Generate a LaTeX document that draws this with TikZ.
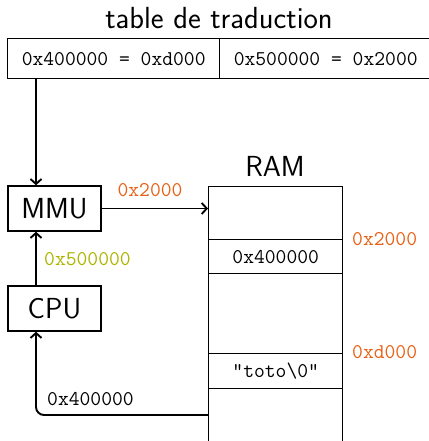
\documentclass[tikz,border=0pt]{standalone}
\usepackage{fontspec}
\usetikzlibrary{arrows.meta}
\definecolor{addrorange}{RGB}{232,96,20}
\definecolor{addrolive}{RGB}{172,180,0}
\begin{document}
\begin{tikzpicture}[x=1pt,y=-1pt,
  big/.style={font=\fontsize{29}{30}\selectfont\sffamily},
  mono/.style={font=\fontsize{21}{24}\selectfont\ttfamily},
  cell/.style={draw, line width=1.4pt, inner sep=0pt},
  arr/.style={-{Straight Barb[length=5pt,width=11pt]}, line width=1.9pt},
  lbl/.style={mono, inner sep=0pt}]
\useasboundingbox (0,0) rectangle (428,441);
\node[big, font=\fontsize{30.5}{32}\selectfont\sffamily] (title) at (219,18) {table de traduction};
\node[cell, mono, minimum width=212, minimum height=40, anchor=north west] (t1) at (7,38) {0x400000 = 0xd000};
\node[cell, mono, minimum width=212, minimum height=40, anchor=north west] (t2) at (219,38) {0x500000 = 0x2000};
\node[cell, big, minimum width=93, minimum height=45] (mmu) at (54.5,208.5) {MMU};
\node[cell, big, minimum width=93, minimum height=45] (cpu) at (54.5,308.5) {CPU};
\node[big] (ram) at (275,166) {RAM};
\node[cell, minimum width=134, minimum height=53, anchor=north west] (r0) at (208,186) {};
\node[cell, mono, minimum width=134, minimum height=34, anchor=north west] (r1) at (208,239) {0x400000};
\node[cell, minimum width=134, minimum height=80, anchor=north west] (r2) at (208,273) {};
\node[cell, mono, minimum width=134, minimum height=35, anchor=north west] (r3) at (208,353) {"toto\textbackslash0"};
\node[cell, minimum width=134, minimum height=60, anchor=north west] (r4) at (208,388) {};
\coordinate (ax) at (36,0);
\coordinate (ret) at (208,415);
\draw[arr] (t1.south -| ax) -- (mmu.north -| ax);
\draw[arr] (mmu.east) -- (mmu.east -| r0.west);
\node[lbl, text=addrorange] (l2000) at (150,190) {0x2000};
\draw[arr] (cpu.north -| ax) -- (mmu.south -| ax);
\node[lbl, text=addrolive, anchor=west] (l500) at (44,259) {0x500000};
\draw[arr, rounded corners=8pt] (ret) -| (cpu.south -| ax);
\node[lbl, anchor=west] (l400) at (47,399) {0x400000};
\node[lbl, text=addrorange, anchor=west] (a2000) at (352,239) {0x2000};
\node[lbl, text=addrorange, anchor=west] (ad000) at (352,352) {0xd000};
\end{tikzpicture}
\end{document}
